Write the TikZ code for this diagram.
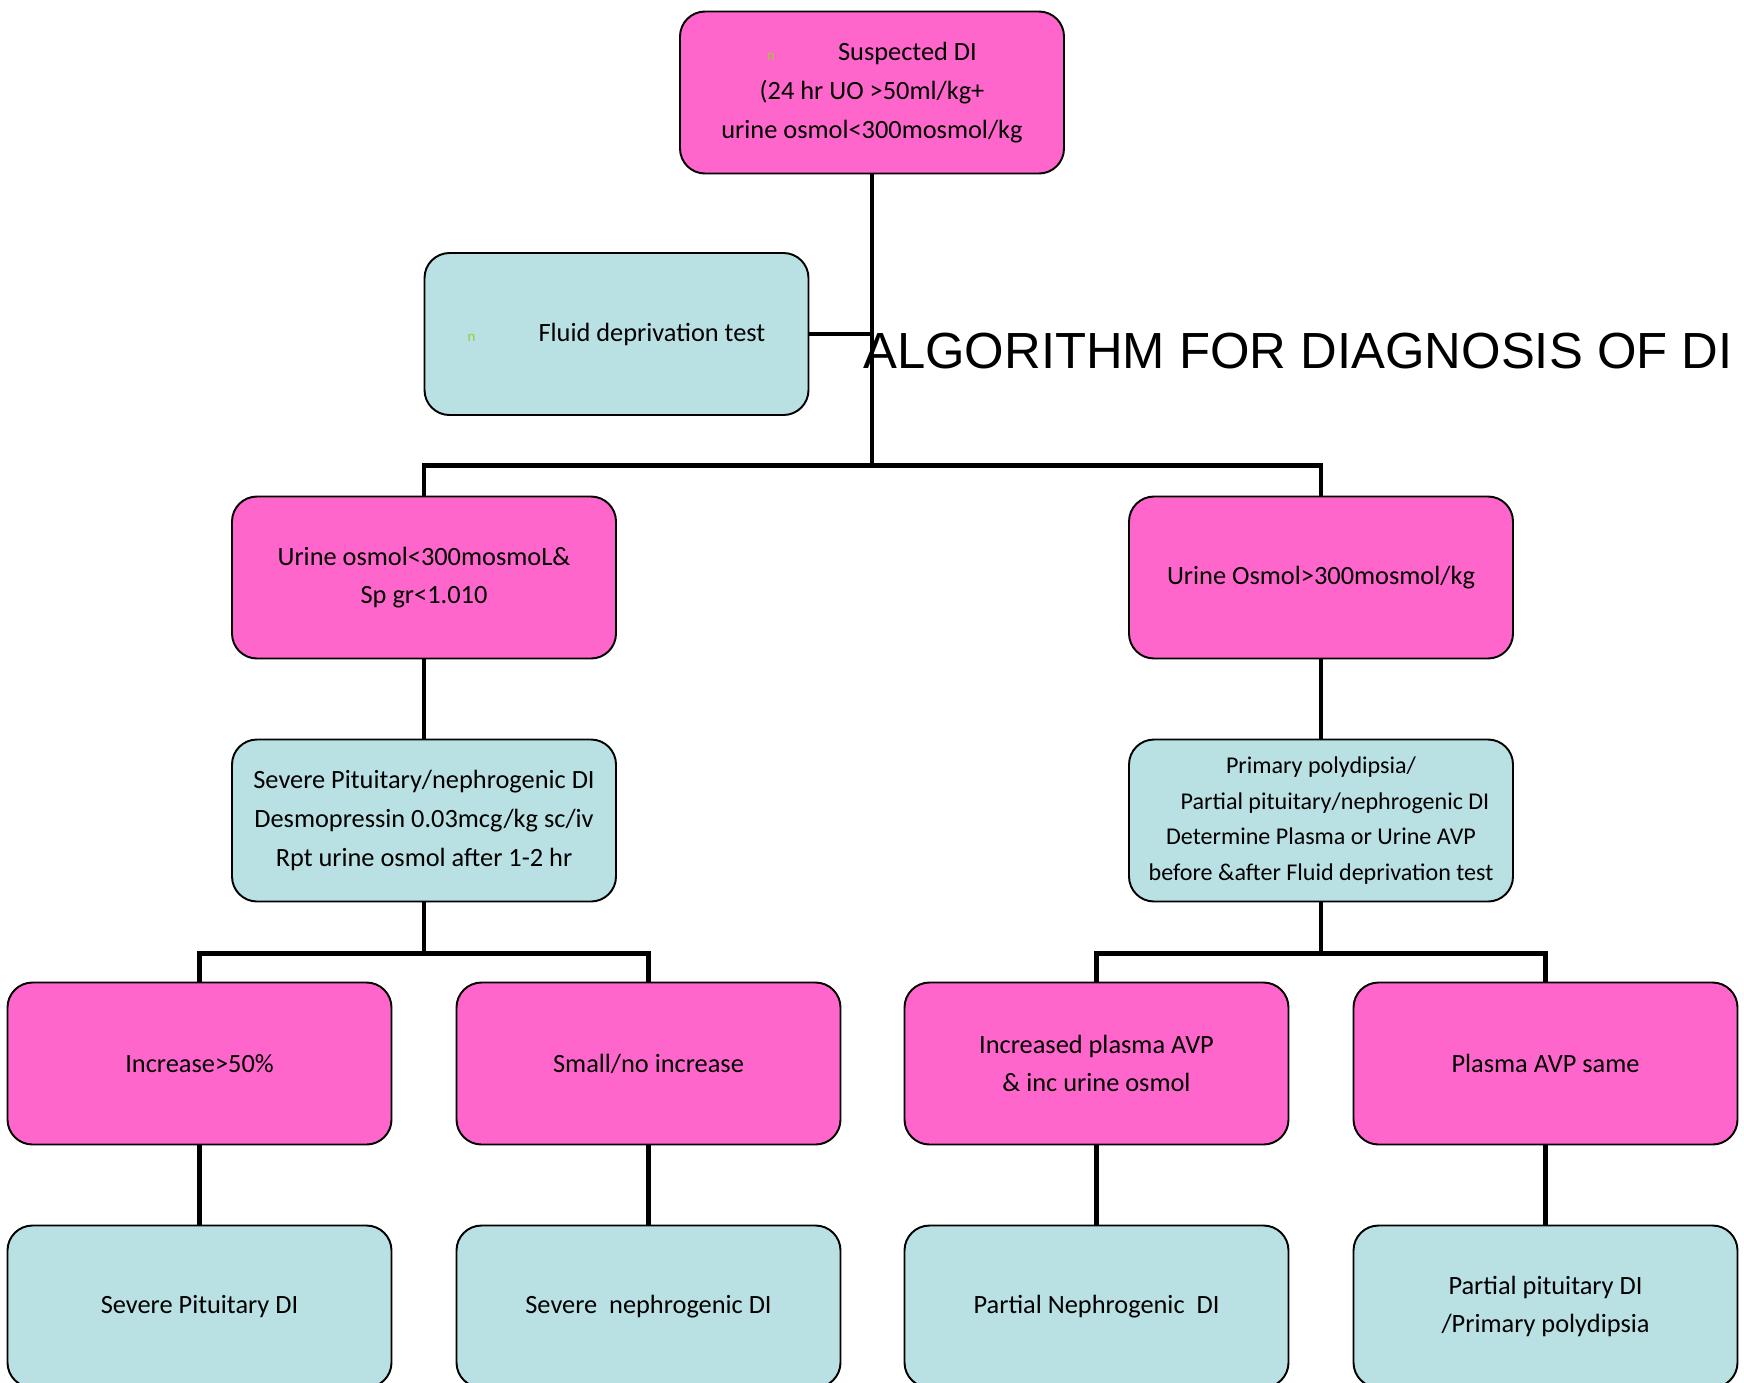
\documentclass[tikz,border=0pt]{standalone}
\usepackage{fontspec}
\setmainfont{Carlito}
\newfontfamily\titlefont{Liberation Sans}
\usetikzlibrary{positioning}
\definecolor{rosa}{RGB}{255,102,204}
\definecolor{celeste}{RGB}{185,224,227}
\definecolor{verdeletra}{RGB}{154,205,50}
\newcommand{\markn}{{\color{verdeletra}\fontsize{8.5}{8.5}\selectfont n}}

\begin{document}
\begin{tikzpicture}[node distance=1.62cm,
    pinkbox/.style={rectangle, rounded corners=0.5cm, draw=black, line width=1.1pt,
                    fill=rosa, minimum width=7.68cm, minimum height=3.24cm,
                    inner sep=0pt, outer sep=0pt, align=center,
                    font=\fontsize{15}{22}\selectfont},
    bluebox/.style={pinkbox, fill=celeste},
    link/.style={line width=2.8pt, color=black}
  ]
    \useasboundingbox (0,0) rectangle (34.88,-27.64);

    \node[pinkbox] (suspected) at (17.44,-1.85) {\markn\hspace{1.26cm}Suspected DI\\(24 hr UO >50ml/kg+\\urine osmol<300mosmol/kg};
    \node[bluebox] (fluid) at (12.33,-6.68) {\markn\hspace{1.26cm}Fluid deprivation test};
    \node[pinkbox] (lowosm) at (8.48,-11.55) {Urine osmol<300mosmoL\&\\Sp gr<1.010};
    \node[pinkbox] (highosm) at (26.42,-11.55) {Urine Osmol>300mosmol/kg};

    \node[bluebox, below=of lowosm] (severe) {Severe Pituitary/nephrogenic DI\\Desmopressin 0.03mcg/kg sc/iv\\Rpt urine osmol after 1-2 hr};
    \node[bluebox, below=of highosm, font=\fontsize{13.7}{20.2}\selectfont] (partial) {Primary polydipsia/\\\hspace{0.56cm}Partial pituitary/nephrogenic DI\\Determine Plasma or Urine AVP\\before \&after Fluid deprivation test};

    \node[pinkbox, below=of severe, xshift=-4.49cm] (incr) {Increase>50\%};
    \node[pinkbox, below=of severe, xshift=4.49cm] (small) {Small/no increase};
    \node[pinkbox, below=of partial, xshift=-4.49cm] (incavp) {Increased plasma AVP\\\& inc urine osmol};
    \node[pinkbox, below=of partial, xshift=4.49cm] (same) {Plasma AVP same};

    \node[bluebox, below=of incr] (sevpit) {Severe Pituitary DI};
    \node[bluebox, below=of small] (sevneph) {Severe\ \ nephrogenic DI};
    \node[bluebox, below=of incavp] (partneph) {Partial Nephrogenic\ \ DI};
    \node[bluebox, below=of same] (partpit) {Partial pituitary DI\\/Primary polydipsia};

    \coordinate[above=0.62cm of lowosm] (splittop);
    \draw[link] (suspected.south) -- (suspected.south |- splittop);
    \draw[link] (fluid.east) -- (fluid.east -| suspected.south);
    \draw[link] (lowosm.north) -- (splittop) -| (highosm.north);
    \draw[link] (lowosm) -- (severe);
    \draw[link] (highosm) -- (partial);
    \draw[link] (severe.south) -- ++(0,-1.04) -| (incr.north);
    \draw[link] (severe.south) ++(0,-1.04) -| (small.north);
    \draw[link] (partial.south) -- ++(0,-1.04) -| (incavp.north);
    \draw[link] (partial.south) ++(0,-1.04) -| (same.north);
    \draw[link] (incr) -- (sevpit);
    \draw[link] (small) -- (sevneph);
    \draw[link] (incavp) -- (partneph);
    \draw[link] (same) -- (partpit);

    \node[font=\titlefont\fontsize{28.9}{34}\selectfont, anchor=base west, inner sep=0pt] (title) at (17.26,-7.36) {ALGORITHM FOR DIAGNOSIS OF DI};
  \end{tikzpicture}
\end{document}
